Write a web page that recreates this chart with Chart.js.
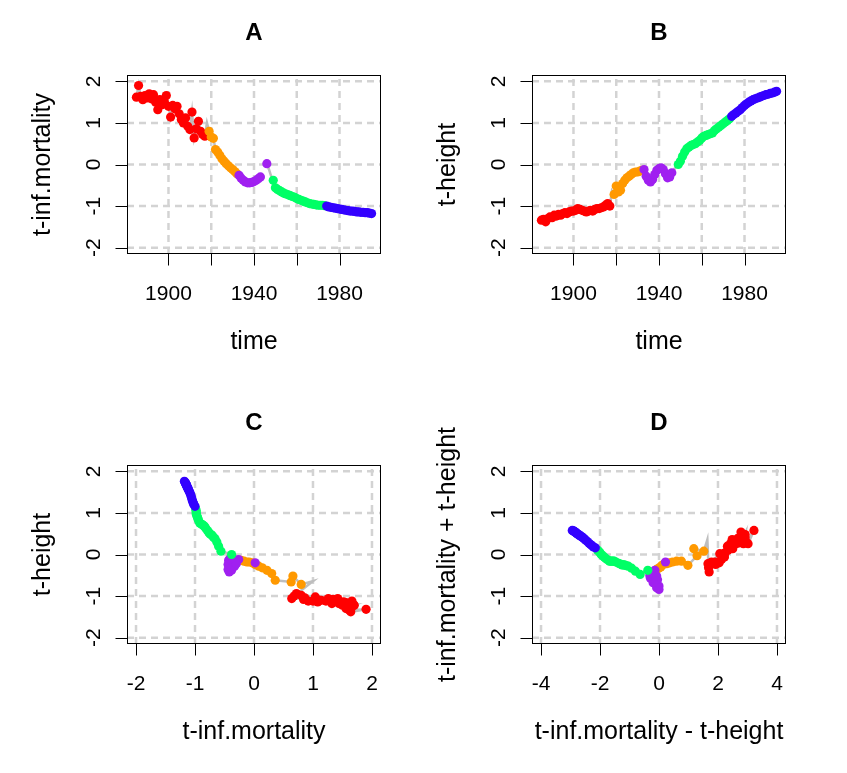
<!DOCTYPE html>
<html><head><meta charset="utf-8">
<script src="https://cdn.jsdelivr.net/npm/chart.js@4.4.1/dist/chart.umd.min.js"></script>
<style>
html,body{margin:0;padding:0;background:#fff;}
#wrap{position:relative;width:847px;height:773px;background:#fff;}
canvas{position:absolute;left:0;top:0;}
</style></head><body><div id="wrap">
<canvas id="cA" width="847" height="773"></canvas>
<canvas id="cB" width="847" height="773"></canvas>
<canvas id="cC" width="847" height="773"></canvas>
<canvas id="cD" width="847" height="773"></canvas>
</div>
<script>
// ---------------- data ----------------
const years = [
1885,1886,1887,1888,1889,1890,1891,1892,1893,1894,
1895,1896,1897,1898,1899,1900,1901,1902,1903,1904,
1905,1906,1907,1908,1909,1910,1911,1912,1913,1914,
1915,1916,1917,1918,1919,1920,1921,1922,1923,1924,
1925,1926,1927,1928,1929,1930,1931,1932,1933,1934,
1935,1936,1937,1938,1939,1940,1941,1942,1943,1944,
1945,1946,1947,1948,1949,1950,1951,1952,1953,1954,
1955,1956,1957,1958,1959,1960,1961,1962,1963,1964,
1965,1966,1967,1968,1969,1970,1971,1972,1973,1974,
1975,1976,1977,1978,1979,1980,1981,1982,1983,1984,
1985,1986,1987,1988,1989,1990,1991,1992,1993,1994,
1995];
const infMortality = [
1.62,1.90,1.64,1.56,1.66,1.60,1.70,1.58,1.68,1.50,
1.32,1.56,1.44,1.52,1.66,1.40,1.14,1.42,1.34,1.40,
1.22,1.08,1.00,1.12,0.92,0.84,1.26,0.64,0.86,1.04,
0.80,0.72,0.68,1.00,0.80,0.66,0.63,0.36,0.30,0.22,
0.14,0.08,0.02,-0.03,-0.08,-0.12,-0.17,-0.22,-0.26,-0.33,
-0.38,-0.42,-0.44,-0.44,-0.43,-0.41,-0.38,-0.34,-0.30,null,
null,0.02,-0.12,-0.28,-0.38,-0.56,-0.60,-0.63,-0.66,-0.69,
-0.71,-0.73,-0.75,-0.77,-0.79,-0.82,-0.84,-0.86,-0.88,-0.90,
-0.92,-0.94,-0.95,-0.96,-0.97,-0.98,-0.98,-0.98,-0.99,-1.00,
-1.02,-1.03,-1.04,-1.05,-1.06,-1.07,-1.08,-1.09,-1.10,-1.11,
-1.12,-1.12,-1.13,-1.14,-1.14,-1.15,-1.15,-1.16,-1.16,-1.17,
-1.18];
const height = [
-1.34,-1.32,-1.38,-1.30,-1.26,-1.28,-1.22,-1.24,-1.20,-1.22,
-1.18,-1.16,-1.18,-1.14,-1.12,-1.12,-1.10,-1.06,-1.08,-1.10,
-1.12,-1.14,-1.12,-1.10,-1.12,-1.08,-1.06,-1.06,-1.04,-1.02,
-0.98,-0.94,-1.00,-0.64,-0.72,-0.52,-0.66,-0.62,-0.46,-0.38,
-0.32,-0.28,-0.24,-0.20,-0.18,-0.18,-0.16,-0.14,-0.12,-0.28,
-0.38,-0.42,-0.36,-0.24,-0.14,-0.10,-0.08,-0.12,-0.22,-0.32,
-0.30,-0.20,-0.12,-0.05,0.00,0.08,0.20,0.30,0.38,0.42,
0.46,0.48,0.50,0.54,0.58,0.64,0.68,0.70,0.72,0.74,
0.76,0.82,0.86,0.90,0.94,0.98,1.02,1.06,1.10,1.16,
1.20,1.24,1.28,1.32,1.37,1.42,1.46,1.50,1.53,1.56,
1.58,1.60,1.62,1.64,1.66,1.68,1.69,1.71,1.72,1.74,
1.76];
// periods (first year of each period) and their point colours (null = no point)
const periodStart = [1885, 1918, 1919, 1933, 1947, 1949, 1974];
const periodColor = ['#FF0000', null, '#FF9900', '#A020F0', null, '#00FF66', '#3300FF'];

const timeTicks = [1900, 1920, 1940, 1960, 1980];
const timeTickLabels = ['1900', '', '1940', '', '1980'];
const valueTicks = [-2, -1, 0, 1, 2];
const valueTickLabels = ['-2', '-1', '0', '1', '2'];
const diffTicks = [-4, -2, 0, 2, 4];
const diffTickLabels = ['-4', '-2', '0', '2', '4'];

// ---------------- layout / style ----------------
const W = 847, H = 773;
const FONT = '"Liberation Sans", Arial, sans-serif';
const TICK_FONT = '21px ' + FONT;
const LAB_FONT = '25px ' + FONT;
const MAIN_FONT = 'bold 24px ' + FONT;

function colorOf(yr){
  let c = null;
  for (let k = 0; k < periodStart.length; k++) if (yr >= periodStart[k]) c = periodColor[k];
  return c;
}
const sum = (a, b) => (a == null || b == null) ? null : a + b;
const diff = (a, b) => (a == null || b == null) ? null : a - b;

const panels = [
  {id:'cA', title:'A', area:{l:127, t:75, r:381, b:254},
   xv: i => years[i], yv: i => infMortality[i],
   xlim:[1880.6, 1999.4], ylim:[-2.153, 2.153],
   xTicks: timeTicks, xLabels: timeTickLabels, yTicks: valueTicks, yLabels: valueTickLabels,
   xTitle:'time', yTitle:'t-inf.mortality'},
  {id:'cB', title:'B', area:{l:532, t:75, r:786, b:254},
   xv: i => years[i], yv: i => height[i],
   xlim:[1880.6, 1999.4], ylim:[-2.153, 2.153],
   xTicks: timeTicks, xLabels: timeTickLabels, yTicks: valueTicks, yLabels: valueTickLabels,
   xTitle:'time', yTitle:'t-height'},
  {id:'cC', title:'C', area:{l:127, t:465, r:381, b:644},
   xv: i => infMortality[i], yv: i => height[i],
   xlim:[-2.153, 2.153], ylim:[-2.153, 2.153],
   xTicks: valueTicks, xLabels: valueTickLabels, yTicks: valueTicks, yLabels: valueTickLabels,
   xTitle:'t-inf.mortality', yTitle:'t-height'},
  {id:'cD', title:'D', area:{l:532, t:465, r:786, b:644},
   xv: i => diff(infMortality[i], height[i]), yv: i => sum(infMortality[i], height[i]),
   xlim:[-4.306, 4.306], ylim:[-2.153, 2.153],
   xTicks: diffTicks, xLabels: diffTickLabels, yTicks: valueTicks, yLabels: valueTickLabels,
   xTitle:'t-inf.mortality - t-height', yTitle:'t-inf.mortality + t-height'}
];

function rPlot(p){
  return {
    id: 'rPlot' + p.title,
    beforeDatasetsDraw(chart){
      const ctx = chart.ctx, a = chart.chartArea, xs = chart.scales.x, ys = chart.scales.y;
      ctx.save();
      ctx.strokeStyle = '#D3D3D3'; ctx.lineWidth = 2.5; ctx.setLineDash([7, 5]);
      p.xTicks.forEach(v => { const px = xs.getPixelForValue(v);
        ctx.beginPath(); ctx.moveTo(px, a.bottom); ctx.lineTo(px, a.top); ctx.stroke(); });
      p.yTicks.forEach(v => { const py = ys.getPixelForValue(v);
        ctx.beginPath(); ctx.moveTo(a.left, py); ctx.lineTo(a.right, py); ctx.stroke(); });
      ctx.restore();
    },
    afterDatasetsDraw(chart){
      const ctx = chart.ctx, a = chart.chartArea, xs = chart.scales.x, ys = chart.scales.y;
      ctx.save();
      ctx.strokeStyle = '#000'; ctx.lineWidth = 1; ctx.setLineDash([]);
      ctx.strokeRect(Math.round(a.left) + 0.5, Math.round(a.top) + 0.5,
                     Math.round(a.right - a.left) - 1, Math.round(a.bottom - a.top) - 1);
      const bx = Math.round(a.bottom) - 0.5, lx = Math.round(a.left) + 0.5;
      ctx.beginPath();
      p.xTicks.forEach(v => { const px = Math.round(xs.getPixelForValue(v)) + 0.5;
        ctx.moveTo(px, bx); ctx.lineTo(px, bx + 12); });
      p.yTicks.forEach(v => { const py = Math.round(ys.getPixelForValue(v)) + 0.5;
        ctx.moveTo(lx, py); ctx.lineTo(lx - 12, py); });
      ctx.stroke();
      ctx.fillStyle = '#000';
      ctx.font = TICK_FONT; ctx.textAlign = 'center'; ctx.textBaseline = 'alphabetic';
      p.xTicks.forEach((v, k) => { if (p.xLabels[k]) ctx.fillText(p.xLabels[k], xs.getPixelForValue(v), a.bottom + 45.5); });
      p.yTicks.forEach((v, k) => {
        ctx.save(); ctx.translate(a.left - 27, ys.getPixelForValue(v)); ctx.rotate(-Math.PI / 2);
        ctx.fillText(p.yLabels[k], 0, 0); ctx.restore(); });
      const cx = (a.left + a.right) / 2, cy = (a.top + a.bottom) / 2;
      ctx.font = LAB_FONT;
      ctx.fillText(p.xTitle, cx, a.bottom + 95);
      ctx.save(); ctx.translate(a.left - 77, cy); ctx.rotate(-Math.PI / 2);
      ctx.fillText(p.yTitle, 0, 0); ctx.restore();
      ctx.font = MAIN_FONT;
      ctx.fillText(p.title, cx, a.top - 35);
      ctx.restore();
    }
  };
}

panels.forEach(p => {
  const pts = [], cols = [], line = [];
  for (let i = 0; i < years.length; i++){
    const xv = p.xv(i), yv = p.yv(i);
    const ok = xv != null && yv != null;
    line.push(ok ? {x: xv, y: yv} : {x: NaN, y: NaN});
    const c = colorOf(years[i]);
    if (ok && c){ pts.push({x: xv, y: yv}); cols.push(c); }
  }
  new Chart(document.getElementById(p.id), {
    type: 'scatter',
    data: {datasets: [
      {data: pts, showLine: false, pointRadius: 4.6, pointHoverRadius: 4.6,
       pointBackgroundColor: cols, pointBorderWidth: 0, order: 0},
      {data: line, showLine: true, spanGaps: false, borderColor: '#BEBEBE', borderWidth: 2.5,
       pointRadius: 0, pointHoverRadius: 0, tension: 0, order: 1}
    ]},
    options: {
      responsive: false, animation: false, devicePixelRatio: 1, events: [],
      layout: {padding: {left: p.area.l, top: p.area.t, right: W - p.area.r, bottom: H - p.area.b}},
      scales: {
        x: {type: 'linear', min: p.xlim[0], max: p.xlim[1], display: false},
        y: {type: 'linear', min: p.ylim[0], max: p.ylim[1], display: false}
      },
      plugins: {legend: {display: false}, tooltip: {enabled: false}}
    },
    plugins: [rPlot(p)]
  });
});
</script>
</body></html>
